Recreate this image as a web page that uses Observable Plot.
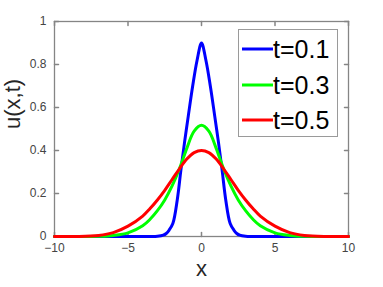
<!DOCTYPE html>
<html>
<head>
<meta charset="utf-8">
<script src="https://cdn.jsdelivr.net/npm/d3@7"></script>
<script src="https://cdn.jsdelivr.net/npm/@observablehq/plot@0.6"></script>
<style>
  html, body { margin: 0; padding: 0; background: #fff; }
  #wrap { position: relative; width: 383px; height: 287px; font-family: "Liberation Sans", Arial, sans-serif; }
  #legend { position: absolute; left: 238px; top: 29px; width: 100px; height: 108px; border: 1px solid #9a9a9a; background: #fff; box-sizing: border-box; }
  .row { position: absolute; left: 3px; height: 30px; display: flex; align-items: center; font-size: 25px; color: #000; }
  .row svg { margin-right: 0px; }
</style>
</head>
<body>
<div id="wrap"></div>
<script>
// t = 0.1 (blue)
const x01 = [-10,-6,-3.5,-3,-2.6,-2.4,-2.2,-1.95,-1.65,-1.4,-1.15,-0.9,-0.6,-0.3,0,0.3,0.6,0.9,1.15,1.4,1.65,1.95,2.2,2.4,2.6,3,3.5,6,10];
const u01 = [0,0,0,0.001,0.006,0.014,0.03,0.06,0.17,0.31,0.44,0.56,0.70,0.82,0.90,0.82,0.70,0.56,0.44,0.31,0.17,0.06,0.03,0.014,0.006,0.001,0,0,0];
// t = 0.3 (green)
const x03 = [-10,-8,-7,-6,-5,-4,-3.5,-3,-2.5,-2,-1.5,-1,-0.5,0,0.5,1,1.5,2,2.5,3,3.5,4,5,6,7,8,10];
const u03 = [0,0,0.001,0.005,0.017,0.05,0.08,0.12,0.17,0.235,0.315,0.41,0.49,0.517,0.49,0.41,0.315,0.235,0.17,0.12,0.08,0.05,0.017,0.005,0.001,0,0];
// t = 0.5 (red)
const x05 = [-10,-8.5,-7,-6,-5,-4,-3.5,-3,-2.5,-2,-1.5,-1,-0.5,0,0.5,1,1.5,2,2.5,3,3.5,4,5,6,7,8.5,10];
const u05 = [0,0,0.005,0.018,0.048,0.095,0.13,0.17,0.215,0.265,0.315,0.36,0.39,0.40,0.39,0.36,0.315,0.265,0.215,0.17,0.13,0.095,0.048,0.018,0.005,0,0];

const seriesNames = ["t=0.1", "t=0.3", "t=0.5"];
const seriesColors = ["#0000ff", "#00ff00", "#ff0000"];
const xTicks = [-10, -5, 0, 5, 10];
const yTicks = [0, 0.2, 0.4, 0.6, 0.8, 1];
const yTickLabels = ["0", "0.2", "0.4", "0.6", "0.8", "1"];

const seriesX = [x01, x03, x05];
const seriesU = [u01, u03, u05];
const rows = [];
seriesU.forEach((arr, i) => arr.forEach((v, j) => rows.push({x: seriesX[i][j], u: v, s: seriesNames[i]})));

const tickShape = {draw(context, l) { context.moveTo(0, 0); context.lineTo(0, -l); }};
const axisColor = "#858585";
const labelColor = "#444";

const chart = Plot.plot({
  width: 383,
  height: 287,
  marginLeft: 54,
  marginRight: 35,
  marginTop: 21,
  marginBottom: 51,
  style: {fontFamily: "'Liberation Sans', Arial, sans-serif", background: "#fff"},
  x: {domain: [-10, 10]},
  y: {domain: [0, 1]},
  color: {domain: seriesNames, range: seriesColors},
  marks: [
    Plot.frame({stroke: axisColor, strokeWidth: 1.3}),
    Plot.vector(xTicks, {x: d => d, y: 0, rotate: 0, length: 4, anchor: "start", shape: tickShape, stroke: axisColor}),
    Plot.vector(xTicks, {x: d => d, y: 1, rotate: 180, length: 4, anchor: "start", shape: tickShape, stroke: axisColor}),
    Plot.vector(yTicks, {x: -10, y: d => d, rotate: 90, length: 4, anchor: "start", shape: tickShape, stroke: axisColor}),
    Plot.vector(yTicks, {x: 10, y: d => d, rotate: -90, length: 4, anchor: "start", shape: tickShape, stroke: axisColor}),
    Plot.axisX(xTicks, {tickSize: 0, tickPadding: 7, fontSize: 12, color: labelColor, label: null}),
    Plot.axisY(yTicks, {tickSize: 0, tickPadding: 8, fontSize: 12, color: labelColor, label: null, tickFormat: (d, i) => yTickLabels[i]}),
    Plot.line(rows, {x: "x", y: "u", stroke: "s", z: "s", strokeWidth: 3, curve: "catmull-rom"}),
    Plot.text(["x"], {frameAnchor: "bottom", dy: 39, fontSize: 22, fill: "#262626"}),
    Plot.text(["u(x,t)"], {frameAnchor: "left", dx: -42, rotate: -90, fontSize: 22, fill: "#262626"})
  ]
});

const wrap = document.getElementById("wrap");
wrap.appendChild(chart);

const legend = document.createElement("div");
legend.id = "legend";
const rowTops = [4, 40, 75];
seriesNames.forEach((name, i) => {
  const r = document.createElement("div");
  r.className = "row";
  r.style.top = rowTops[i] + "px";
  r.innerHTML = `<svg width="31" height="6"><line x1="0" x2="31" y1="3" y2="3" stroke="${seriesColors[i]}" stroke-width="3"/></svg><span>${name}</span>`;
  legend.appendChild(r);
});
wrap.appendChild(legend);
</script>
</body>
</html>
